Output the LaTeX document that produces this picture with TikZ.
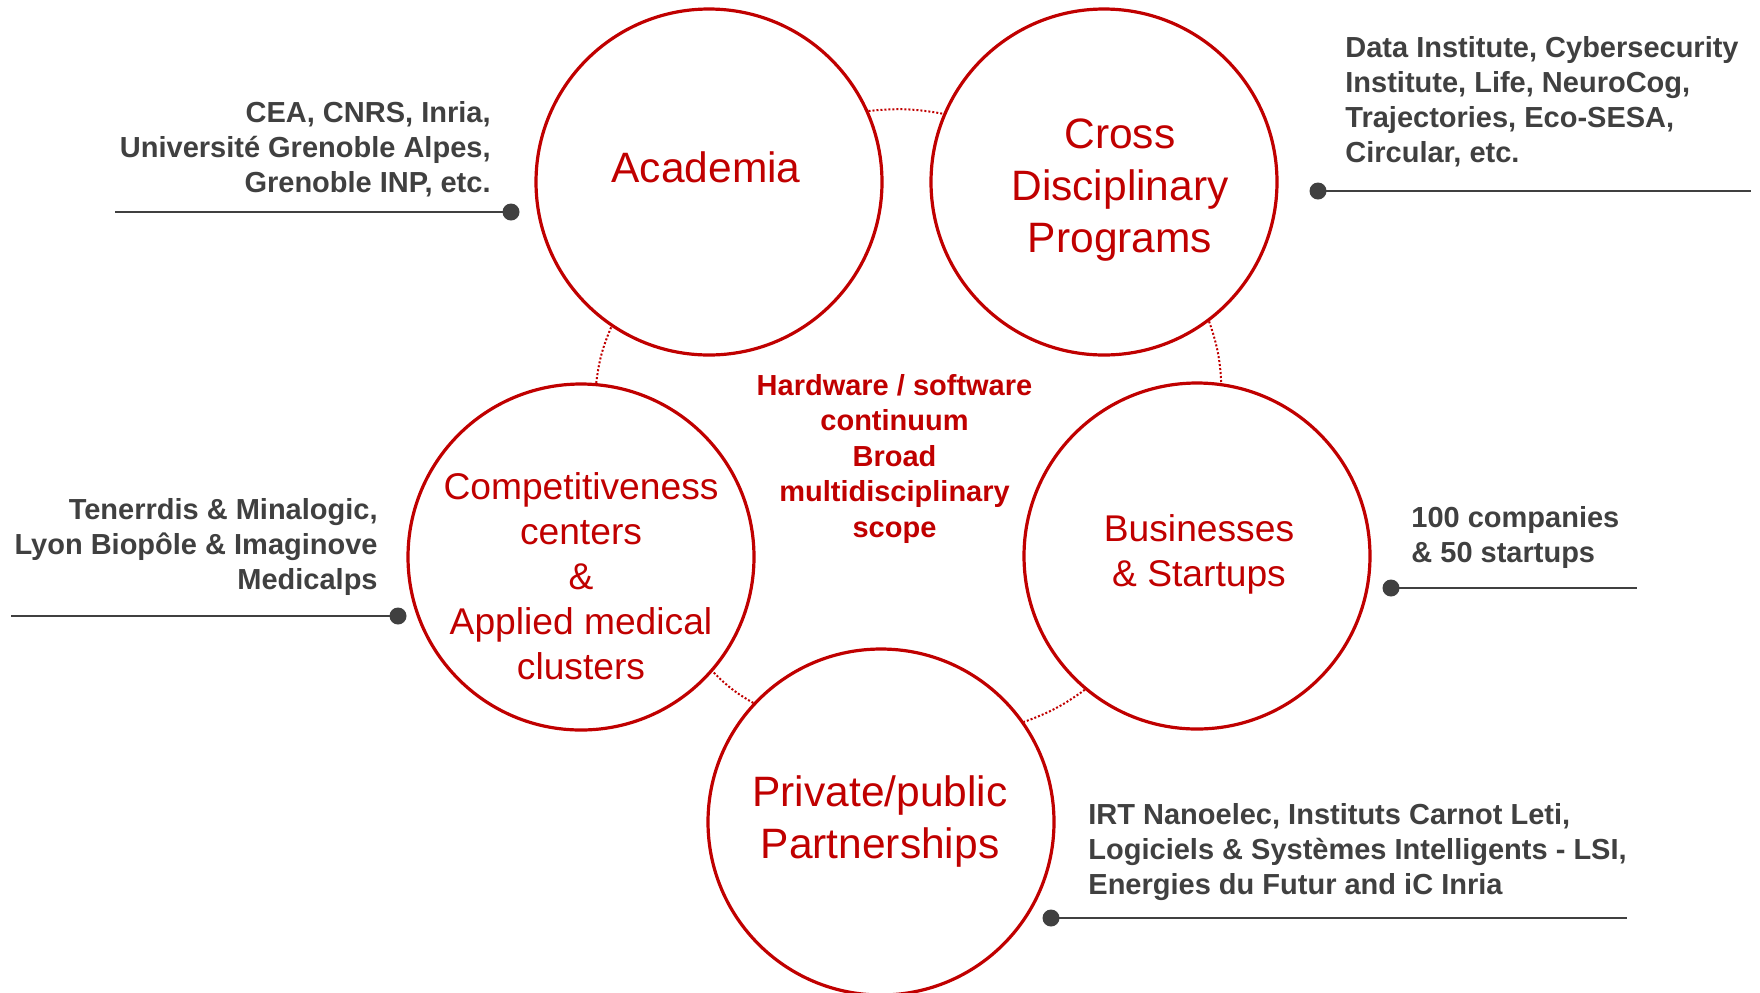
\documentclass[tikz,border=0pt]{standalone}
\usepackage{fontspec}
\setmainfont{Liberation Sans}
\definecolor{cred}{HTML}{C00000}
\definecolor{cgray}{HTML}{404040}
\tikzset{
 bub/.style={circle, draw=cred, line width=1.6pt, minimum size=173pt, inner sep=0pt},
 bigtxt/.style={text=cred, font=\fontsize{21.25}{25.85}\selectfont, align=center, anchor=base, inner sep=0pt},
 medtxt/.style={text=cred, font=\fontsize{18.6}{22.5}\selectfont, align=center, anchor=base, inner sep=0pt},
 lbl/.style={text=cgray, font=\bfseries\fontsize{14.5}{17.5}\selectfont, inner sep=0pt},
 ctr/.style={text=cred, font=\bfseries\fontsize{14.5}{17.7}\selectfont, align=center, anchor=base, inner sep=0pt},
 rule/.style={draw=cgray, line width=1.4pt},
 pin/.style={circle, fill=cgray, minimum size=8.5pt, inner sep=0pt},
 link/.style={draw=cred, line width=1pt, dash pattern=on 1pt off 1pt, bend left=8},
}
\begin{document}
\begin{tikzpicture}[x=0.5pt,y=-0.5pt]
\useasboundingbox (0,0) rectangle (1760,992);
% circles
\node[bub] (acad) at (709,182) {};
\node[bub] (cross) at (1104,182) {};
\node[bub] (comp) at (581,557) {};
\node[bub] (bus) at (1197,556) {};
\node[bub] (ppp) at (881,822) {};
% dotted links (clockwise round the ring)
\draw[link] (acad.24) to (cross.157);
\draw[link] (cross.-53) to (bus.82);
\draw[link] (bus.-130) to (ppp.35);
\draw[link] (ppp.137) to (comp.-41);
\draw[link] (comp.85) to (acad.-124);
% circle texts (anchor = baseline of last line)
\node[bigtxt] (acadT) at (706,182) {Academia};
\node[bigtxt] (crossT) at (1120,252) {Cross\\Disciplinary\\Programs};
\node[medtxt] (compT) at (581,679) {Competitiveness\\centers\\\&\\Applied medical\\clusters};
\node[medtxt] (busT) at (1199,586) {Businesses\\\& Startups};
\node[bigtxt] (pppT) at (880,858) {Private/public\\Partnerships};
\node[ctr] (core) at (894.5,537) {Hardware / software\\continuum\\Broad\\multidisciplinary\\scope};
% side labels
\node[lbl, anchor=base east, align=right] (acadL) at (491,192) {CEA, CNRS, Inria,\\Université Grenoble Alpes,\\Grenoble INP, etc.};
\node[lbl, anchor=base west, align=left] (crossL) at (1345,162) {Data Institute, Cybersecurity\\Institute, Life, NeuroCog,\\Trajectories, Eco-SESA,\\Circular, etc.};
\node[lbl, anchor=base east, align=right] (compL) at (378,589) {Tenerrdis \& Minalogic,\\Lyon Biopôle \& Imaginove\\Medicalps};
\node[lbl, anchor=base west, align=left] (busL) at (1411,562) {100 companies\\\& 50 startups};
\node[lbl, anchor=base west, align=left] (pppL) at (1088,894) {IRT Nanoelec, Instituts Carnot Leti,\\Logiciels \& Systèmes Intelligents - LSI,\\Energies du Futur and iC Inria};
% rules with pins
\node[pin] (acadP) at (511,212) {};
\coordinate (acadE) at (115,212);
\draw[rule] (acadE) -- (acadP.center);
\node[pin] (crossP) at (1318,191) {};
\coordinate (crossE) at (1751,191);
\draw[rule] (crossP.center) -- (crossE);
\node[pin] (compP) at (398,616) {};
\coordinate (compE) at (11,616);
\draw[rule] (compE) -- (compP.center);
\node[pin] (busP) at (1391,588) {};
\coordinate (busE) at (1637,588);
\draw[rule] (busP.center) -- (busE);
\node[pin] (pppP) at (1051,918) {};
\coordinate (pppE) at (1627,918);
\draw[rule] (pppP.center) -- (pppE);
\end{tikzpicture}
\end{document}
